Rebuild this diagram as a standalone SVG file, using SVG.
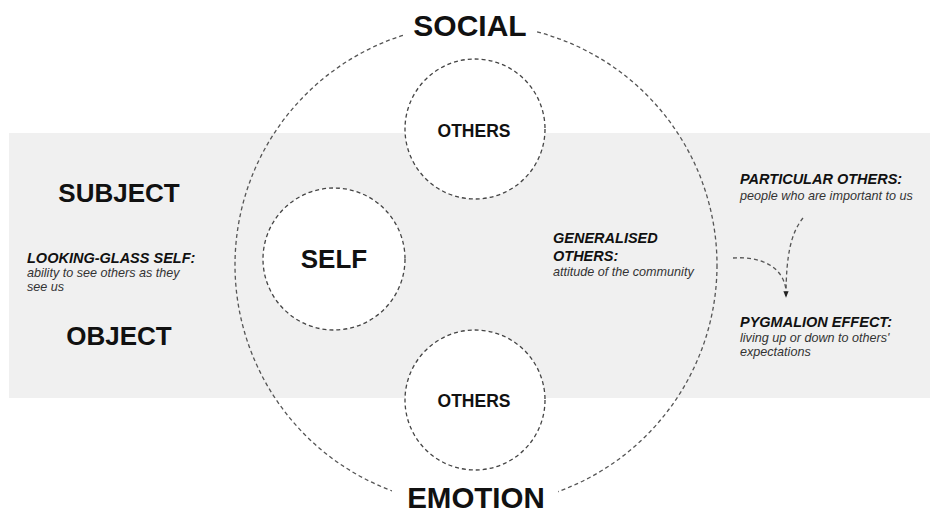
<svg xmlns="http://www.w3.org/2000/svg" width="930" height="514" viewBox="0 0 930 514">
  <defs>
    <style>
      .dash { fill: none; stroke: #555; stroke-width: 1.3; stroke-dasharray: 4 3; }
      .node { fill: #fff; stroke: #444; stroke-width: 1.3; stroke-dasharray: 4 3; }
      .big { font-family: "Liberation Sans", Arial, sans-serif; font-weight: bold; fill: #111; }
      .head { font-family: "Liberation Sans", Arial, sans-serif; font-weight: bold; font-style: italic; font-size: 14.5px; fill: #111; }
      .note { font-family: "Liberation Sans", Arial, sans-serif; font-style: italic; font-size: 12.6px; fill: #333; }
    </style>
    <marker id="arrow" viewBox="0 0 10 10" refX="9" refY="5" markerWidth="5" markerHeight="5" orient="auto">
      <path d="M0,1 L10,5 L0,9 z" fill="#222"/>
    </marker>
  </defs>

  <rect width="930" height="514" fill="#fff"/>
  <rect id="band" x="9" y="133" width="921" height="265" fill="#f0f0f0"/>

  <g id="outer-circle">
    <circle class="dash" cx="476" cy="265" r="241"/>
    <rect x="403" y="0" width="132" height="47" fill="#fff"/>
    <rect x="392" y="474" width="166" height="40" fill="#fff"/>
  </g>

  <g id="social">
    <text class="big" x="470" y="36" font-size="30" text-anchor="middle">SOCIAL</text>
  </g>
  <g id="emotion">
    <text class="big" x="476" y="508" font-size="29.5" text-anchor="middle">EMOTION</text>
  </g>

  <g id="others-top">
    <circle class="node" cx="475" cy="129" r="70"/>
    <text class="big" x="474" y="137" font-size="17.5" text-anchor="middle">OTHERS</text>
  </g>
  <g id="self">
    <circle class="node" cx="334" cy="259" r="71"/>
    <text class="big" x="334" y="268" font-size="26" text-anchor="middle">SELF</text>
  </g>
  <g id="others-bottom">
    <circle class="node" cx="475" cy="400" r="70"/>
    <text class="big" x="474" y="407" font-size="17.5" text-anchor="middle">OTHERS</text>
  </g>

  <g id="subject">
    <text class="big" x="119" y="202" font-size="26" text-anchor="middle">SUBJECT</text>
  </g>
  <g id="object">
    <text class="big" x="119" y="345" font-size="26" text-anchor="middle">OBJECT</text>
  </g>

  <g id="looking-glass">
    <text class="head" x="27" y="263">LOOKING-GLASS SELF:</text>
    <text class="note" x="27" y="277">ability to see others as they</text>
    <text class="note" x="27" y="291">see us</text>
  </g>

  <g id="generalised">
    <text class="head" x="553" y="243">GENERALISED</text>
    <text class="head" x="553" y="261">OTHERS:</text>
    <text class="note" x="553" y="276">attitude of the community</text>
  </g>

  <g id="particular">
    <text class="head" x="740" y="184">PARTICULAR OTHERS:</text>
    <text class="note" x="740" y="200">people who are important to us</text>
  </g>

  <g id="pygmalion">
    <text class="head" x="740" y="327">PYGMALION EFFECT:</text>
    <text class="note" x="740" y="342">living up or down to others'</text>
    <text class="note" x="740" y="356">expectations</text>
  </g>

  <g id="connectors">
    <path class="dash" d="M733,258 C760,256 783,266 786,290"/>
    <path class="dash" d="M803,218 C791,233 786,255 786,297" marker-end="url(#arrow)"/>
  </g>
</svg>
